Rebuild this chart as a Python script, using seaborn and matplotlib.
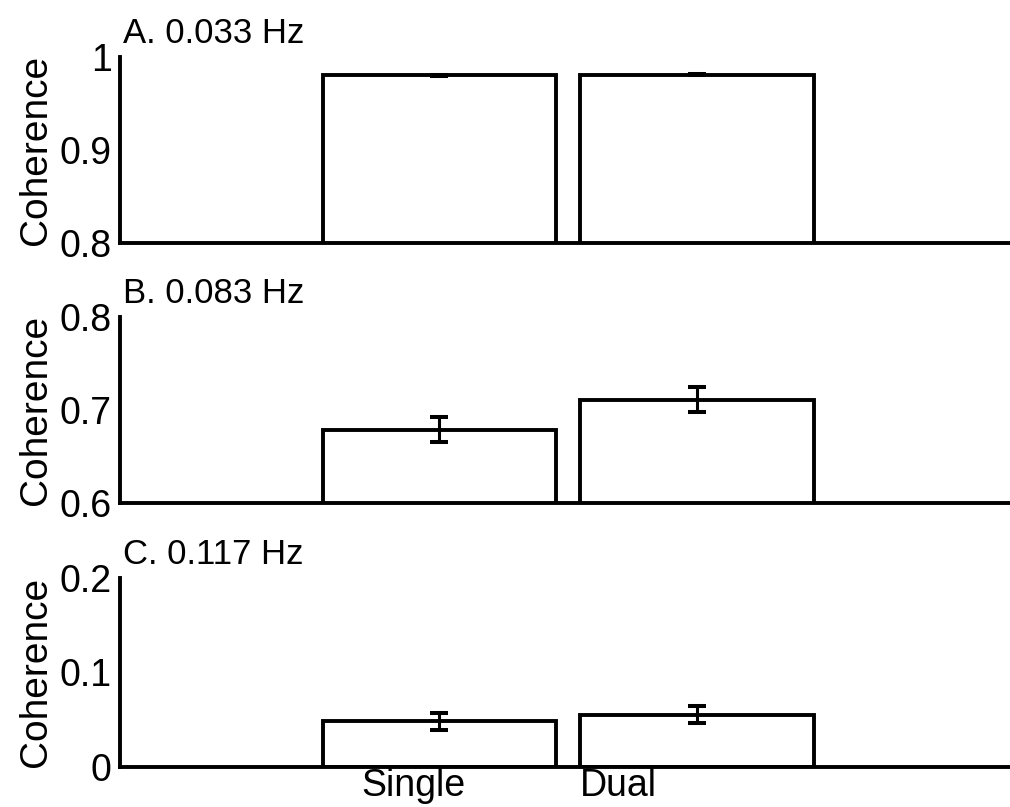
import matplotlib
matplotlib.use("Agg")
import matplotlib.pyplot as plt
import seaborn as sns
import pandas as pd

# Conditions on the x axis
categories = ["Single", "Dual"]

# Panel titles (frequency bands)
panel_titles = ["A. 0.033 Hz", "B. 0.083 Hz", "C. 0.117 Hz"]

# Mean coherence per condition and its standard error, per band
coh_a = [0.980, 0.981]
err_a = [0.001, 0.001]
coh_b = [0.679, 0.711]
err_b = [0.013, 0.0135]
coh_c = [0.048, 0.055]
err_c = [0.009, 0.009]

# Y ranges and tick labels for each band
ylims = [(0.8, 1.0), (0.6, 0.8), (0.0, 0.2)]
yticks = [[0.8, 0.9, 1.0], [0.6, 0.7, 0.8], [0.0, 0.1, 0.2]]
yticklabels = [["0.8", "0.9", "1"], ["0.6", "0.7", "0.8"], ["0", "0.1", "0.2"]]

means = [coh_a, coh_b, coh_c]
errs = [err_a, err_b, err_c]

sns.set_theme(style="white")
plt.rcParams["font.family"] = ["Liberation Sans", "DejaVu Sans"]
for key in ("text.color", "axes.labelcolor", "xtick.color", "ytick.color"):
    plt.rcParams[key] = "black"

fig = plt.figure(figsize=(10.10, 8.07), dpi=100)

# Axes rectangles (left, bottom, width, height) in figure fractions
rects = [
    (0.1188, 0.699, 0.8876, 0.2305),
    (0.1188, 0.3763, 0.8876, 0.2312),
    (0.1188, 0.050, 0.8876, 0.2335),
]

LW = 2.8
FS_TICK = 27
FS_LABEL = 28
FS_TITLE = 25

for i in range(3):
    ax = fig.add_axes(rects[i])
    df = pd.DataFrame({"Condition": categories, "Coherence": means[i]})
    sns.barplot(data=df, x="Condition", y="Coherence", order=categories,
                width=0.905, color="white", saturation=1,
                edgecolor="black", linewidth=LW, errorbar=None, ax=ax)
    ax.errorbar(range(len(categories)), means[i], yerr=errs[i], fmt="none",
                ecolor="black", elinewidth=2.2, capsize=6.8, capthick=2.9,
                zorder=5)
    ax.set_xlim(-1.24, 2.24)
    ax.set_ylim(*ylims[i])
    ax.set_yticks(yticks[i])
    ax.set_yticklabels(yticklabels[i], fontsize=FS_TICK)
    ax.set_ylabel("Coherence", fontsize=FS_LABEL, labelpad=4)
    ax.set_xlabel("")
    ax.tick_params(length=0, pad=6)
    if i < 2:
        ax.set_xticks([])
    else:
        ax.set_xticks([-0.1, 0.695])
        ax.set_xticklabels(categories, fontsize=FS_TICK)
        ax.tick_params(axis="x", pad=1)
    for side in ("top", "right"):
        ax.spines[side].set_visible(False)
    for side in ("left", "bottom"):
        ax.spines[side].set_color("black")
        ax.spines[side].set_linewidth(LW)
    ax.set_title(panel_titles[i], loc="left", fontsize=FS_TITLE, pad=10,
                 x=0.003)

fig.savefig("out.png", dpi=100, facecolor="white")
